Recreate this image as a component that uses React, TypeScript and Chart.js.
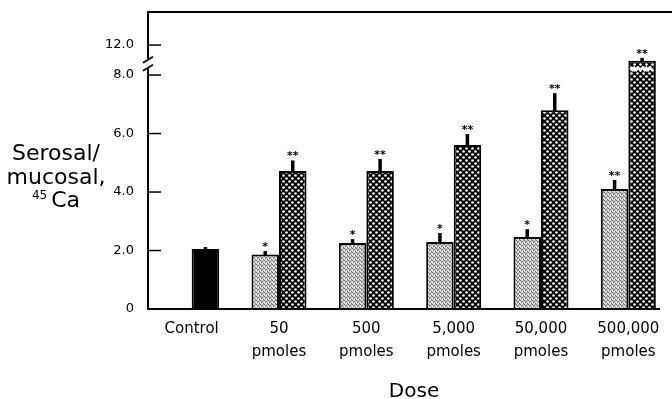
import React, { useEffect, useRef } from "react";
import { Chart, registerables } from "chart.js";

Chart.register(...registerables);

// ---- data ----
const categoryLabels: string[][] = [
  ["Control"],
  ["50", "pmoles"],
  ["500", "pmoles"],
  ["5,000", "pmoles"],
  ["50,000", "pmoles"],
  ["500,000", "pmoles"],
];
const controlValues: (number | null)[] = [2.05, null, null, null, null, null];
const controlErrorTops: (number | null)[] = [2.12, null, null, null, null, null];
const controlSignificance: string[] = ["", "", "", "", "", ""];

const lowDoseValues: (number | null)[] = [null, 1.86, 2.26, 2.29, 2.46, 4.1];
const lowDoseErrorTops: (number | null)[] = [null, 1.98, 2.39, 2.6, 2.73, 4.41];
const lowDoseSignificance: string[] = ["", "*", "*", "*", "*", "**"];

const highDoseValues: (number | null)[] = [null, 4.72, 4.72, 5.61, 6.8, 9.9];
const highDoseErrorTops: (number | null)[] = [null, 5.08, 5.13, 5.98, 7.38, 10.3];
const highDoseSignificance: string[] = ["", "**", "**", "**", "**", "**"];

const yTickValues: number[] = [0, 2, 4, 6, 8, 12];
const yTickLabels: string[] = ["0", "2.0", "4.0", "6.0", "8.0", "12.0"];

const axisBreakStart = 8;
const axisBreakCompression = 0.2564;
const axisBreakMark = 9.5;
const yPlotMax = 10.19;

const toPlot = (v: number | null): number | null =>
  v == null ? null : v <= axisBreakStart ? v : axisBreakStart + (v - axisBreakStart) * axisBreakCompression;

const FONT = "'DejaVu Sans', 'Liberation Sans', Arial, sans-serif";

const series = [
  { values: lowDoseValues, errs: lowDoseErrorTops, sig: lowDoseSignificance },
  { values: controlValues, errs: controlErrorTops, sig: controlSignificance },
  { values: highDoseValues, errs: highDoseErrorTops, sig: highDoseSignificance },
];

function makeStipple(): CanvasPattern | string {
  const c = document.createElement("canvas");
  c.width = 4;
  c.height = 4;
  const g = c.getContext("2d");
  if (!g) return "#c8c8c8";
  g.fillStyle = "#d6d6d6";
  g.fillRect(0, 0, 4, 4);
  g.fillStyle = "#6e6e6e";
  g.fillRect(0, 0, 1, 1);
  g.fillRect(2, 1, 1, 1);
  g.fillRect(1, 2, 1, 1);
  g.fillRect(3, 3, 1, 1);
  g.fillStyle = "#a0a0a0";
  g.fillRect(3, 0, 1, 1);
  g.fillRect(1, 1, 1, 1);
  g.fillStyle = "#f4f4f4";
  g.fillRect(2, 3, 1, 1);
  g.fillRect(0, 2, 1, 1);
  const p = g.createPattern(c, "repeat");
  return p || "#c8c8c8";
}

function makeCrossHatch(): CanvasPattern | string {
  const c = document.createElement("canvas");
  c.width = 6;
  c.height = 6;
  const g = c.getContext("2d");
  if (!g) return "#333";
  g.fillStyle = "#000";
  g.fillRect(0, 0, 6, 6);
  g.fillStyle = "#fff";
  for (const [cx, cy] of [[1.5, 1.5], [4.5, 4.5]]) {
    g.beginPath();
    g.arc(cx, cy, 1.35, 0, Math.PI * 2);
    g.fill();
  }
  const p = g.createPattern(c, "repeat");
  return p || "#333";
}

const decorPlugin = {
  id: "decor",
  afterDatasetsDraw(chart: any) {
    const ctx: CanvasRenderingContext2D = chart.ctx;
    const { left, right, top, bottom } = chart.chartArea;
    const y = chart.scales.y;
    ctx.save();
    ctx.strokeStyle = "#000";
    ctx.lineCap = "butt";

    // baseline
    ctx.lineWidth = 2;
    ctx.beginPath();
    ctx.moveTo(left, bottom);
    ctx.lineTo(right - 12, bottom);
    ctx.stroke();

    // top border
    ctx.beginPath();
    ctx.moveTo(left, top + 1);
    ctx.lineTo(right, top + 1);
    ctx.stroke();

    // left axis with a break
    const bY = y.getPixelForValue(toPlot(axisBreakMark));
    ctx.beginPath();
    ctx.moveTo(left, bottom + 1);
    ctx.lineTo(left, bY + 4);
    ctx.moveTo(left, bY - 4);
    ctx.lineTo(left, top);
    ctx.stroke();
    ctx.lineWidth = 1.8;
    for (const d of [-4, 4]) {
      ctx.beginPath();
      ctx.moveTo(left - 5, bY + d + 3);
      ctx.lineTo(left + 5, bY + d - 3);
      ctx.stroke();
    }

    // inward tick marks
    ctx.lineWidth = 1.5;
    yTickValues.forEach((v) => {
      if (v === 0) return;
      const py = y.getPixelForValue(toPlot(v));
      ctx.beginPath();
      ctx.moveTo(left, py);
      ctx.lineTo(left + 13, py);
      ctx.stroke();
    });

    // error bars, broken bar tops and significance marks
    chart.data.datasets.forEach((_ds: any, di: number) => {
      const meta = chart.getDatasetMeta(di);
      const s = series[di];
      meta.data.forEach((bar: any, i: number) => {
        const v = s.values[i];
        if (v == null) return;
        const e = s.errs[i];
        let ey = bar.y;
        if (e != null) {
          ey = y.getPixelForValue(toPlot(e));
          ctx.strokeStyle = "#000";
          ctx.lineWidth = 3.5;
          ctx.beginPath();
          ctx.moveTo(bar.x, bar.y + 1);
          ctx.lineTo(bar.x, ey);
          ctx.stroke();
        }
        if (v > axisBreakStart) {
          const half = bar.width / 2 - 2;
          const wy = bar.y + 8;
          ctx.strokeStyle = "#fff";
          ctx.lineWidth = 2.5;
          ctx.beginPath();
          let k = 0;
          for (let x = bar.x - half; x <= bar.x + half + 0.01; x += 2) {
            const yy = wy + (k % 2 === 0 ? -1.2 : 1.2);
            if (k === 0) ctx.moveTo(x, yy);
            else ctx.lineTo(x, yy);
            k++;
          }
          ctx.stroke();
        }
        if (s.sig[i]) {
          ctx.fillStyle = "#000";
          ctx.font = `bold 11px ${FONT}`;
          ctx.textAlign = "center";
          ctx.textBaseline = "alphabetic";
          ctx.fillText(s.sig[i], bar.x, ey - 1);
        }
      });
    });
    ctx.restore();
  },
  afterDraw(chart: any) {
    const ctx: CanvasRenderingContext2D = chart.ctx;
    ctx.save();
    ctx.fillStyle = "#000";
    ctx.textBaseline = "alphabetic";
    // y axis title
    const cx = 56;
    ctx.font = `22px ${FONT}`;
    ctx.textAlign = "center";
    ctx.fillText("Serosal/", cx, 160);
    ctx.fillText("mucosal,", cx, 184);
    const caW = ctx.measureText("Ca").width;
    ctx.font = `12px ${FONT}`;
    const supW = ctx.measureText("45").width;
    const gap = 4;
    const total = supW + gap + caW;
    const x0 = cx - total / 2;
    ctx.textAlign = "left";
    ctx.fillText("45", x0, 199);
    ctx.font = `22px ${FONT}`;
    ctx.fillText("Ca", x0 + supW + gap, 207);
    // x axis title
    const { left, right } = chart.chartArea;
    ctx.textAlign = "center";
    ctx.font = `20px ${FONT}`;
    ctx.fillText("Dose", (left + right) / 2 + 4, 397);
    ctx.restore();
  },
};

export default function App() {
  const ref = useRef<HTMLCanvasElement | null>(null);
  useEffect(() => {
    const canvas = ref.current;
    if (!canvas) return;
    const stipple = makeStipple();
    const cross = makeCrossHatch();
    const common = {
      borderColor: "#000",
      borderWidth: 2,
      categoryPercentage: 0.63,
      barPercentage: 1.0,
    };
    const chart = new Chart(canvas, {
      type: "bar",
      data: {
        labels: categoryLabels,
        datasets: [
          { label: "Low", data: lowDoseValues.map(toPlot), backgroundColor: stipple, stack: "a", ...common },
          { label: "Control", data: controlValues.map(toPlot), backgroundColor: "#000", stack: "b", ...common },
          { label: "High", data: highDoseValues.map(toPlot), backgroundColor: cross, stack: "b", ...common },
        ] as any,
      },
      options: {
        responsive: false,
        animation: false,
        events: [],
        layout: { padding: { top: 11, left: 0, right: 0, bottom: 0 } },
        plugins: {
          legend: { display: false },
          tooltip: { enabled: false },
          title: { display: false },
        },
        scales: {
          x: {
            type: "category",
            grid: { display: false, drawTicks: false },
            border: { display: false },
            ticks: {
              color: "#000",
              font: { family: FONT, size: 15, lineHeight: 1.5 },
              padding: 9,
              maxRotation: 0,
              autoSkip: false,
            },
            afterFit: (scale: any) => {
              scale.height = 90;
              scale.paddingLeft = 0;
              scale.paddingRight = 0;
            },
          },
          y: {
            type: "linear",
            stacked: false,
            min: 0,
            max: yPlotMax,
            grid: { display: false, drawTicks: false },
            border: { display: false },
            afterBuildTicks: (scale: any) => {
              scale.ticks = yTickValues.map((v) => ({ value: toPlot(v) }));
            },
            ticks: {
              color: "#000",
              font: { family: FONT, size: 13 },
              padding: 14,
              autoSkip: false,
              callback: (_value: any, index: number) => yTickLabels[index],
            },
            afterFit: (scale: any) => {
              scale.width = 148;
              scale.paddingTop = 0;
              scale.paddingBottom = 0;
            },
          },
        },
      } as any,
      plugins: [decorPlugin],
    });
    return () => chart.destroy();
  }, []);
  return (
    <div style={{ position: "fixed", left: 0, top: 0, width: 672, height: 399, background: "#fff" }}>
      <canvas ref={ref} width={672} height={399} style={{ display: "block", width: 672, height: 399 }} />
    </div>
  );
}
